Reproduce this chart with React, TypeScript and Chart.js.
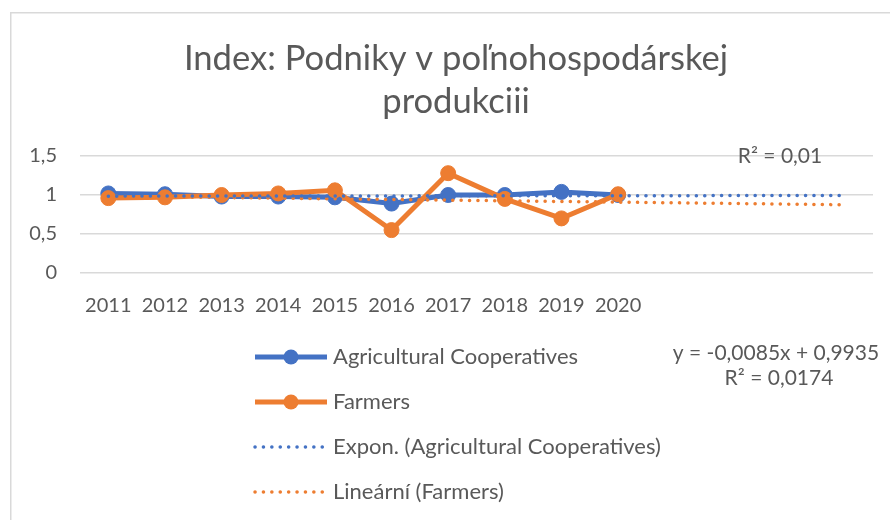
import React, { useEffect, useRef } from 'react';
import { Chart, registerables } from 'chart.js';

Chart.register(...registerables);

const TITLE_LINES = ['Index: Podniky v poľnohospodárskej', 'produkciii'];
const YEARS = ['2011', '2012', '2013', '2014', '2015', '2016', '2017', '2018', '2019', '2020'];
const FORECAST_PERIODS = 4;
const COOPERATIVES = [1.02, 1.01, 0.98, 0.98, 0.97, 0.89, 1.0, 1.0, 1.04, 1.0];
const FARMERS = [0.96, 0.97, 1.0, 1.02, 1.06, 0.55, 1.28, 0.95, 0.7, 1.01];
const FARMERS_TREND_SLOPE = -0.0085;
const FARMERS_TREND_INTERCEPT = 0.9935;
const SERIES_NAMES = [
  'Agricultural Cooperatives',
  'Farmers',
  'Expon. (Agricultural Cooperatives)',
  'Lineární (Farmers)',
];
const Y_MIN = 0;
const Y_MAX = 1.5;
const Y_STEP = 0.5;
const COOP_R2_LABEL = 'R² = 0,01';
const FARMERS_EQ_LABEL = 'y = -0,0085x + 0,9935';
const FARMERS_R2_LABEL = 'R² = 0,0174';

const BLUE = '#4472C4';
const ORANGE = '#ED7D31';
const TEXT = '#595959';
const GRID = '#d9d9d9';
const FONT = 'Lato';

function expFit(values: number[], total: number): number[] {
  const n = values.length;
  const xs = values.map((_, i) => i + 1);
  const ls = values.map((v) => Math.log(v));
  const mx = xs.reduce((a, b) => a + b, 0) / n;
  const ml = ls.reduce((a, b) => a + b, 0) / n;
  let sxy = 0;
  let sxx = 0;
  for (let i = 0; i < n; i++) {
    sxy += (xs[i] - mx) * (ls[i] - ml);
    sxx += (xs[i] - mx) * (xs[i] - mx);
  }
  const b = sxy / sxx;
  const a = ml - b * mx;
  const out: number[] = [];
  for (let x = 1; x <= total; x++) out.push(Math.exp(a + b * x));
  return out;
}

function linTrend(slope: number, intercept: number, total: number): number[] {
  const out: number[] = [];
  for (let x = 1; x <= total; x++) out.push(intercept + slope * x);
  return out;
}

const decorPlugin = {
  id: 'decor',
  beforeDraw(chart: any) {
    const ctx = chart.ctx;
    ctx.save();
    ctx.strokeStyle = GRID;
    ctx.lineWidth = 1.5;
    ctx.strokeRect(10.75, 12.75, 900, 520);
    // Title
    ctx.fillStyle = TEXT;
    ctx.font = `34.6px ${FONT}`;
    ctx.textAlign = 'center';
    ctx.textBaseline = 'middle';
    TITLE_LINES.forEach((line, i) => {
      ctx.fillText(line, 456, 59 + i * 43);
    });
    ctx.restore();
  },
  afterDraw(chart: any) {
    const ctx = chart.ctx;
    ctx.save();
    // Legend
    const rowStart = 357;
    const rowStep = 45;
    const lineX0 = 255;
    const lineX1 = 327;
    const textX = 333;
    chart.data.datasets.forEach((ds: any, i: number) => {
      const y = rowStart + i * rowStep;
      ctx.save();
      ctx.strokeStyle = ds.borderColor;
      ctx.lineWidth = ds.borderWidth;
      ctx.lineCap = ds.borderCapStyle || 'butt';
      ctx.setLineDash(ds.borderDash || []);
      ctx.beginPath();
      ctx.moveTo(lineX0, y);
      ctx.lineTo(lineX1, y);
      ctx.stroke();
      ctx.setLineDash([]);
      if (ds.pointRadius > 0) {
        ctx.fillStyle = ds.pointBackgroundColor;
        ctx.beginPath();
        ctx.arc((lineX0 + lineX1) / 2, y, ds.pointRadius, 0, Math.PI * 2);
        ctx.fill();
      }
      ctx.restore();
      ctx.fillStyle = TEXT;
      ctx.font = `22px ${FONT}`;
      ctx.textAlign = 'left';
      ctx.textBaseline = 'middle';
      ctx.fillText(ds.label, textX, y);
    });
    // Trendline labels
    ctx.fillStyle = TEXT;
    ctx.font = `21px ${FONT}`;
    ctx.textAlign = 'center';
    ctx.textBaseline = 'middle';
    ctx.fillText(COOP_R2_LABEL, 780, 156);
    ctx.fillText(FARMERS_EQ_LABEL, 776, 353);
    ctx.fillText(FARMERS_R2_LABEL, 779, 378);
    ctx.restore();
  },
};

export default function App() {
  const ref = useRef<HTMLCanvasElement | null>(null);

  useEffect(() => {
    if (!ref.current) return;
    const total = YEARS.length + FORECAST_PERIODS;
    const labels = [...YEARS, ...Array(FORECAST_PERIODS).fill('')];
    const chart = new Chart(ref.current, {
      type: 'line',
      data: {
        labels,
        datasets: [
          {
            label: SERIES_NAMES[0],
            data: COOPERATIVES,
            borderColor: BLUE,
            backgroundColor: BLUE,
            pointBackgroundColor: BLUE,
            pointBorderColor: BLUE,
            borderWidth: 5,
            pointRadius: 7.5,
            pointBorderWidth: 1,
            order: 2,
          } as any,
          {
            label: SERIES_NAMES[1],
            data: FARMERS,
            borderColor: ORANGE,
            backgroundColor: ORANGE,
            pointBackgroundColor: ORANGE,
            pointBorderColor: ORANGE,
            borderWidth: 5,
            pointRadius: 7.5,
            pointBorderWidth: 1,
            order: 1,
          } as any,
          {
            label: SERIES_NAMES[2],
            data: expFit(COOPERATIVES, total),
            borderColor: BLUE,
            borderWidth: 3.5,
            borderDash: [0.1, 8.3],
            borderCapStyle: 'round',
            pointRadius: 0,
            order: 0,
          } as any,
          {
            label: SERIES_NAMES[3],
            data: linTrend(FARMERS_TREND_SLOPE, FARMERS_TREND_INTERCEPT, total),
            borderColor: ORANGE,
            borderWidth: 3.5,
            borderDash: [0.1, 8.3],
            borderCapStyle: 'round',
            pointRadius: 0,
            order: 0,
          } as any,
        ],
      },
      options: {
        responsive: false,
        animation: false,
        layout: { padding: { left: 10, right: 17, top: 156, bottom: 0 } },
        plugins: {
          legend: { display: false },
          tooltip: { enabled: false },
          title: { display: false },
        },
        scales: {
          x: {
            offset: true,
            grid: { display: false, drawTicks: false },
            border: { display: false },
            ticks: {
              color: TEXT,
              font: { family: FONT, size: 20 },
              padding: 21,
              autoSkip: false,
              maxRotation: 0,
            },
            afterFit: (scale: any) => {
              scale.height = 247;
            },
          },
          y: {
            min: Y_MIN,
            max: Y_MAX,
            grid: { color: GRID, lineWidth: 1.5, drawTicks: false },
            border: { display: false },
            ticks: {
              stepSize: Y_STEP,
              color: TEXT,
              font: { family: FONT, size: 20 },
              padding: 23,
              callback: (v: any) => String(v).replace('.', ','),
            },
            afterFit: (scale: any) => {
              scale.width = 70;
            },
          },
        },
      },
      plugins: [decorPlugin],
    });
    return () => chart.destroy();
  }, []);

  return (
    <div style={{ position: 'absolute', left: 0, top: 0, width: 890, height: 520, background: '#fff' }}>
      <canvas ref={ref} width={890} height={520} style={{ display: 'block' }} />
    </div>
  );
}
